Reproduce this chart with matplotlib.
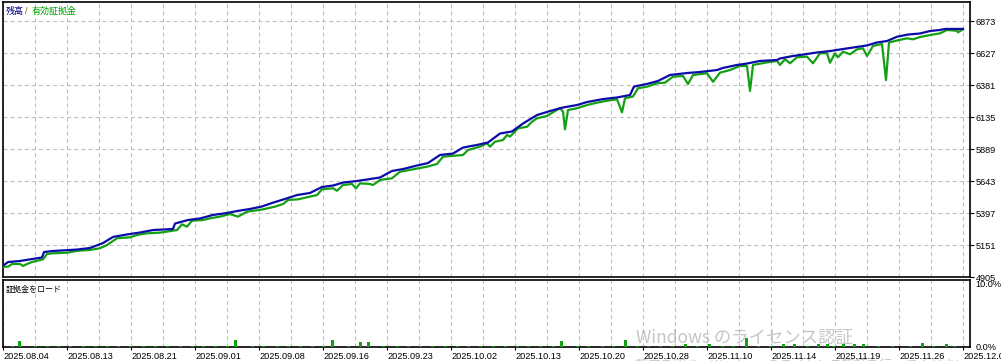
import matplotlib.pyplot as plt
from matplotlib.ticker import MultipleLocator

plt.rcParams['font.family'] = ['Liberation Sans', 'Noto Sans CJK JP', 'DejaVu Sans']
plt.rcParams['lines.scale_dashes'] = False

W, H = 1001, 361

# x = trade index on the tester chart
balance_x = [4, 8, 20, 32, 42, 44, 53, 77, 90, 103, 113, 127, 140, 153, 173, 175, 188, 200, 213, 227,
             237, 250, 262, 272, 285, 297, 310, 322, 333, 343, 357, 370, 380, 392, 403, 417, 428, 440, 453, 463,
             477, 488, 500, 512, 523, 537, 550, 563, 577, 587, 603, 617, 630, 634, 647, 658, 670, 687, 700, 717,
             723, 737, 747, 760, 777, 780, 793, 803, 817, 830, 840, 853, 867, 877, 887, 897, 908, 920, 930, 940,
             945, 963]
balance = [4997, 5020, 5028, 5043, 5055, 5097, 5105, 5116, 5128, 5166, 5213, 5232, 5247, 5266, 5274, 5316,
           5343, 5355, 5382, 5397, 5412, 5428, 5447, 5474, 5505, 5535, 5551, 5597, 5608, 5631, 5643, 5658,
           5670, 5720, 5735, 5762, 5781, 5843, 5854, 5900, 5920, 5939, 6008, 6024, 6085, 6150, 6181, 6208,
           6227, 6250, 6273, 6285, 6304, 6369, 6389, 6412, 6458, 6473, 6481, 6496, 6512, 6535, 6546, 6566,
           6573, 6585, 6604, 6615, 6631, 6642, 6654, 6669, 6685, 6708, 6719, 6752, 6769, 6777, 6796, 6804,
           6812, 6812]

equity_x = [4, 8, 12, 20, 23, 27, 32, 43, 47, 53, 67, 78, 90, 100, 107, 117, 130, 137, 147, 160,
            177, 182, 187, 192, 203, 210, 220, 230, 238, 247, 263, 275, 283, 288, 298, 307, 317, 322, 333, 337,
            343, 352, 356, 360, 370, 373, 380, 392, 400, 413, 427, 437, 443, 463, 468, 480, 487, 490, 495, 503,
            507, 510, 518, 527, 532, 537, 547, 560, 563, 565, 568, 577, 587, 597, 607, 617, 622, 625, 633, 638,
            647, 657, 665, 673, 683, 688, 693, 707, 713, 720, 730, 740, 747, 750, 753, 767, 777, 780, 785, 790,
            797, 807, 813, 820, 827, 830, 835, 838, 843, 850, 857, 863, 867, 873, 882, 886, 889, 897, 907, 913,
            920, 930, 940, 947, 957, 958, 963]
equity = [4984, 4984, 5005, 5005, 4990, 5005, 5020, 5041, 5082, 5087, 5092, 5107, 5113, 5126, 5151, 5203,
          5210, 5228, 5241, 5246, 5266, 5310, 5292, 5338, 5343, 5356, 5369, 5389, 5369, 5407, 5425, 5446,
          5466, 5497, 5502, 5518, 5535, 5579, 5587, 5568, 5612, 5620, 5587, 5625, 5620, 5612, 5651, 5664,
          5714, 5733, 5753, 5774, 5830, 5843, 5881, 5907, 5933, 5907, 5945, 5958, 5997, 5984, 6048, 6060,
          6099, 6125, 6143, 6204, 6176, 6040, 6189, 6202, 6227, 6245, 6260, 6271, 6171, 6279, 6293, 6356,
          6368, 6394, 6399, 6445, 6450, 6389, 6458, 6471, 6406, 6476, 6496, 6527, 6527, 6335, 6535, 6555,
          6566, 6535, 6579, 6548, 6594, 6599, 6548, 6625, 6625, 6552, 6625, 6594, 6637, 6617, 6655, 6663,
          6604, 6681, 6696, 6419, 6708, 6723, 6740, 6732, 6750, 6765, 6778, 6804, 6798, 6786, 6809]

# margin load (%)
load_x = [12, 19, 35, 47, 58, 70, 83, 95, 107, 118, 130, 143, 155, 167, 180, 192, 203, 215, 227, 235,
          252, 263, 277, 288, 300, 312, 323, 332, 348, 360, 368, 383, 397, 408, 420, 432, 445, 457, 468, 480,
          493, 505, 517, 528, 540, 553, 561, 577, 588, 602, 613, 625, 637, 648, 660, 672, 685, 697, 709, 722,
          733, 746, 758, 770, 783, 794, 807, 818, 827, 833, 843, 854, 863, 878, 892, 910, 922, 933, 946, 954]
load_pct = [0.2, 0.9, 0.2, 0.2, 0.2, 0.2, 0.2, 0.2, 0.2, 0.2, 0.2, 0.2, 0.2, 0.2, 0.2, 0.2,
            0.2, 0.2, 0.2, 1.05, 0.2, 0.2, 0.2, 0.2, 0.2, 0.2, 0.2, 1.05, 0.2, 0.7, 0.7, 0.2,
            0.2, 0.2, 0.2, 0.2, 0.2, 0.2, 0.2, 0.2, 0.2, 0.2, 0.2, 0.2, 0.2, 0.2, 0.85, 0.2,
            0.2, 0.2, 0.2, 1.1, 0.2, 0.2, 0.2, 0.2, 0.5, 0.2, 0.5, 0.2, 0.2, 1.4, 0.2, 0.2,
            0.5, 0.5, 0.2, 0.5, 0.45, 0.2, 0.5, 0.5, 0.5, 0.2, 0.2, 0.2, 0.6, 0.2, 0.5, 0.2]

y_ticks = [4905, 5151, 5397, 5643, 5889, 6135, 6381, 6627, 6873]
date_labels = ['2025.08.04', '2025.08.13', '2025.08.21', '2025.09.01', '2025.09.08', '2025.09.16',
               '2025.09.23', '2025.10.02', '2025.10.13', '2025.10.20', '2025.10.28', '2025.11.10',
               '2025.11.14', '2025.11.19', '2025.11.26', '2025.12.01']

BLUE = '#0c0ca8'
GREEN = '#14a014'
GRID = dict(color='#c0c0c0', linestyle=(0, (2.9, 2.2)), linewidth=0.8)

fig = plt.figure(figsize=(W / 100, H / 100), dpi=100)


def px_axes(x0, y0, x1, y1):
    return fig.add_axes([x0 / W, 1 - y1 / H, (x1 - x0) / W, (y1 - y0) / H])


ax = px_axes(3, 2, 970, 277)
ax2 = px_axes(3, 280, 970, 347)

# main panel: balance / equity
ax.plot(equity_x, equity, color=GREEN, lw=1.6, zorder=3)
ax.plot(balance_x, balance, color=BLUE, lw=1.6, zorder=4)
ax.set_xlim(3, 970)
ax.set_ylim(4905, 4905 + 275 * 246 / 32)
ax.yaxis.tick_right()
ax.set_yticks(y_ticks, [str(v) for v in y_ticks])
ax.tick_params(axis='y', length=3, width=0.8, pad=1, labelsize=6.6)
ax.set_xticks([])
ax.xaxis.set_minor_locator(MultipleLocator(32, offset=3))
ax.tick_params(axis='x', which='minor', length=0)
ax.grid(True, which='minor', axis='x', **GRID)
ax.grid(True, which='major', axis='y', **GRID)
ax.set_axisbelow(True)

# lower panel: margin load
ax2.bar(load_x, load_pct, width=3, color=GREEN, zorder=3)
ax2.set_xlim(3, 970)
ax2.set_ylim(0, 10)
ax2.yaxis.tick_right()
ax2.set_yticks([0, 10], ['0.0%', '10.0%'])
ax2.tick_params(axis='y', length=0, pad=4, labelsize=6.6)
ax2.get_yticklabels()[1].set_va('top')
tick_idx = [3 + 64 * k for k in range(len(date_labels))]
ax2.set_xticks(tick_idx, date_labels)
for lab in ax2.get_xticklabels():
    lab.set_ha('left')
ax2.tick_params(axis='x', length=2.5, width=0.8, pad=1, labelsize=6.6)
ax2.xaxis.set_minor_locator(MultipleLocator(32, offset=3))
ax2.tick_params(axis='x', which='minor', length=0)
ax2.grid(True, which='both', axis='x', **GRID)
ax2.set_axisbelow(True)

for a in (ax, ax2):
    for sp in a.spines.values():
        sp.set_linewidth(1.2)
        sp.set_color('black')


def ftext(x, y, s, **kw):
    return fig.text(x / W, 1 - y / H, s, va='center', ha='left', **kw)


ftext(6, 11, '残高', color='#000080', fontsize=6.5, family=['Noto Sans CJK JP'])
ftext(25, 11, '/', color='#806000', fontsize=6.5)
ftext(32, 11, '有効証拠金', color='#00a000', fontsize=6.5, family=['Noto Sans CJK JP'])
ftext(6, 289, '証拠金をロード', color='black', fontsize=5.8, family=['Noto Sans CJK JP'])

# Windows activation watermark over the screenshot
ftext(636, 338, 'Windows のライセンス認証', color='#a8a8a8', alpha=0.65, fontsize=12.5,
      family=['Noto Sans CJK JP'])
ftext(636, 366, '設定を開き、Windows のライセンス認証を行ってください。', color='#a8a8a8', alpha=0.65,
      fontsize=9, family=['Noto Sans CJK JP'])

fig.savefig('out.png', dpi=100)
